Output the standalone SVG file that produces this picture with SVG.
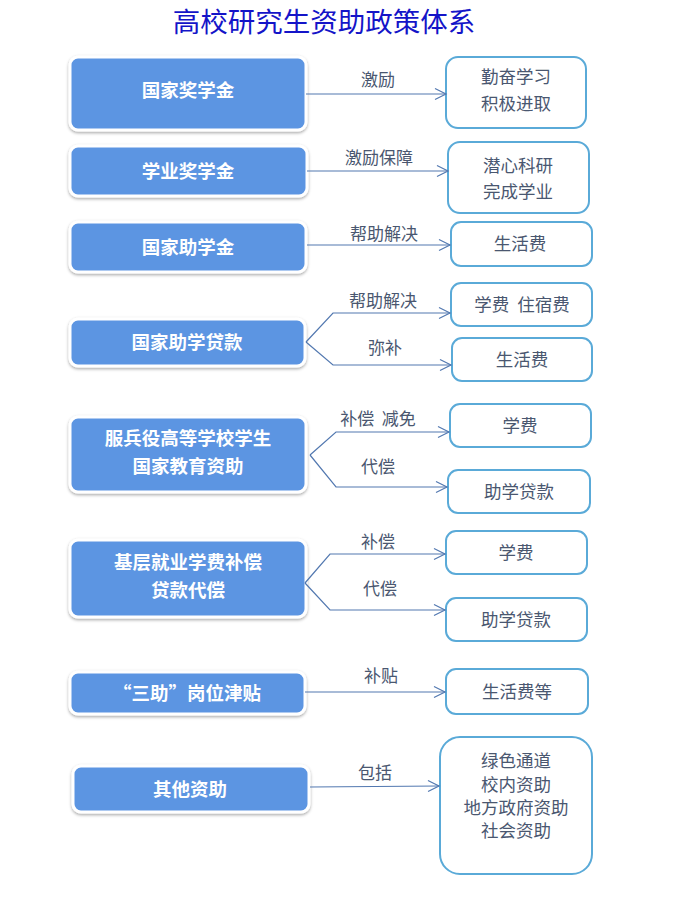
<svg xmlns="http://www.w3.org/2000/svg" width="687" height="899" viewBox="0 0 687 899">
<style>
.title{font-family:"Liberation Sans","Noto Sans CJK SC",sans-serif;font-size:27.5px;fill:#1414C8;text-anchor:middle}
.lb rect{fill:#5C95E2;stroke:#FFFFFF;stroke-width:3;filter:url(#sh)}
.lb text{font-family:"Noto Sans CJK SC",sans-serif;font-weight:bold;font-size:18.5px;fill:#FFFFFF;text-anchor:middle}
.rb rect{fill:#FFFFFF;stroke:#5AAAD8;stroke-width:2}
.rb text{font-family:"Noto Sans CJK SC",sans-serif;font-size:17.5px;fill:#4A5770;text-anchor:middle;white-space:pre}
.cn path{fill:none;stroke:#5278B0;stroke-width:1.2;marker-end:url(#ah)}
.cn text{font-family:"Noto Sans CJK SC",sans-serif;font-size:17px;fill:#4A5770;text-anchor:middle;white-space:pre}
</style>
<defs>
<filter id="sh" x="-10%" y="-20%" width="120%" height="150%">
<feDropShadow dx="0" dy="1.5" stdDeviation="1.5" flood-color="#000" flood-opacity="0.35"/>
</filter>
<marker id="ah" markerWidth="14" markerHeight="14" refX="12" refY="7" orient="auto" markerUnits="userSpaceOnUse">
<path d="M1,1.5 L12,7 L1,12.5" fill="none" stroke="#5278B0" stroke-width="1.2"/>
</marker>
</defs>
<rect width="687" height="899" fill="#FFFFFF"/>
<text class="title" x="324" y="32">高校研究生资助政策体系</text>

<g id="l1" class="lb"><rect x="70" y="57" width="236" height="73" rx="8"/><text x="188" y="97">国家奖学金</text></g>
<g id="l2" class="lb"><rect x="70" y="146" width="237" height="50" rx="8"/><text x="188" y="178">学业奖学金</text></g>
<g id="l3" class="lb"><rect x="70" y="222" width="236" height="50" rx="8"/><text x="188" y="254">国家助学金</text></g>
<g id="l4" class="lb"><rect x="70" y="319" width="235" height="47" rx="8"/><text x="187" y="349">国家助学贷款</text></g>
<g id="l5" class="lb"><rect x="70" y="417" width="236" height="75" rx="8"/><text x="188" y="445">服兵役高等学校学生</text><text x="188" y="473">国家教育资助</text></g>
<g id="l6" class="lb"><rect x="70" y="540" width="236" height="77" rx="8"/><text x="188" y="569">基层就业学费补偿</text><text x="188" y="597">贷款代偿</text></g>
<g id="l7" class="lb"><rect x="70" y="672" width="235" height="42" rx="8"/><text x="187" y="700">“三助”岗位津贴</text></g>
<g id="l8" class="lb"><rect x="73" y="766" width="236" height="46" rx="8"/><text x="190" y="796">其他资助</text></g>

<g id="r1" class="rb"><rect x="446" y="57" width="140" height="71" rx="12"/><text x="516" y="83">勤奋学习</text><text x="516" y="110">积极进取</text></g>
<g id="r2" class="rb"><rect x="448" y="142" width="141" height="71" rx="12"/><text x="518" y="172">潜心科研</text><text x="518" y="198">完成学业</text></g>
<g id="r3" class="rb"><rect x="451" y="222" width="141" height="44" rx="10"/><text x="520" y="250">生活费</text></g>
<g id="r4a" class="rb"><rect x="451" y="283" width="141" height="43" rx="10"/><text x="522" y="311">学费  住宿费</text></g>
<g id="r4b" class="rb"><rect x="452" y="338" width="140" height="43" rx="10"/><text x="522" y="366">生活费</text></g>
<g id="r5a" class="rb"><rect x="450" y="404" width="141" height="43" rx="10"/><text x="520" y="432">学费</text></g>
<g id="r5b" class="rb"><rect x="448" y="470" width="142" height="43" rx="10"/><text x="519" y="498">助学贷款</text></g>
<g id="r6a" class="rb"><rect x="446" y="531" width="141" height="43" rx="10"/><text x="516" y="559">学费</text></g>
<g id="r6b" class="rb"><rect x="446" y="598" width="141" height="43" rx="10"/><text x="516" y="626">助学贷款</text></g>
<g id="r7" class="rb"><rect x="446" y="669" width="142" height="45" rx="10"/><text x="517" y="698">生活费等</text></g>
<g id="r8" class="rb"><rect x="440" y="737" width="152" height="137" rx="20"/><text x="516" y="767">绿色通道</text><text x="516" y="791">校内资助</text><text x="516" y="814">地方政府资助</text><text x="516" y="837">社会资助</text></g>

<g id="connectors" class="cn">
<path d="M306,94 L446,94"/><text x="378" y="86">激励</text>
<path d="M307,171 L448,171"/><text x="379" y="164">激励保障</text>
<path d="M307,245 L450,245"/><text x="384" y="240">帮助解决</text>
<path d="M306,342 L333,313 L450,313"/><text x="383" y="307">帮助解决</text>
<path d="M306,342 L333,365 L451,365"/><text x="385" y="354">弥补</text>
<path d="M310,455 L336,432 L449,432"/><text x="378" y="425">补偿  减免</text>
<path d="M310,455 L336,487 L447,487"/><text x="378" y="473">代偿</text>
<path d="M305,583 L330,554 L445,554"/><text x="378" y="548">补偿</text>
<path d="M305,583 L330,610 L445,610"/><text x="380" y="595">代偿</text>
<path d="M305,692 L445,692"/><text x="381" y="682">补贴</text>
<path d="M310,787 L439,786"/><text x="375" y="779">包括</text>
</g>
</svg>
